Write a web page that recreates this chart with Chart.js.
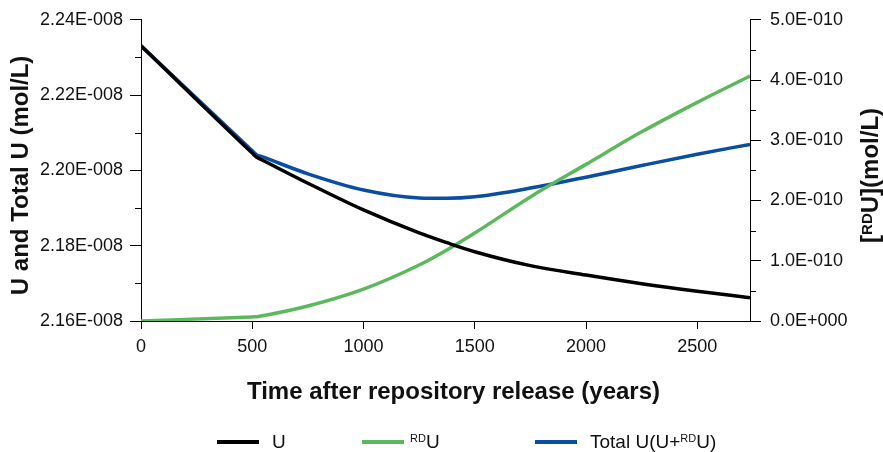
<!DOCTYPE html>
<html>
<head>
<meta charset="utf-8">
<title>Uranium concentration after repository release</title>
<script src="https://cdn.jsdelivr.net/npm/chart.js@4/dist/chart.umd.min.js"></script>
<style>
  html, body { margin: 0; padding: 0; background: #fff; }
  #wrap { position: relative; width: 883px; height: 452px; overflow: hidden;
          font-family: "Liberation Sans", Arial, sans-serif; }
  #chart { position: absolute; left: 0; top: 0; }
  #legend { position: absolute; left: 0; top: 428px; width: 883px; height: 28px; }
  .item { position: absolute; top: 0; height: 28px; display: flex; align-items: center;
          font-size: 19px; color: #111; white-space: nowrap; }
  .item:nth-child(1) { left: 217px; }
  .item:nth-child(2) { left: 362px; }
  .item:nth-child(3) { left: 535px; }
  .swatch { display: inline-block; width: 42px; height: 4px; margin-right: 13px; }
  .item:nth-child(2) .swatch { margin-right: 6px; }
  .item sup { font-size: 11px; vertical-align: baseline; position: relative; top: -0.55em; }
</style>
</head>
<body>
<div id="wrap">
  <canvas id="chart" width="883" height="452"></canvas>
  <div id="legend"></div>
</div>
<script>
// Time after repository release (years)
const years = [0, 500, 520, 540, 750, 1000, 1250, 1375, 1500, 1750, 2000, 2250, 2500, 2737];
// Dissolved U (mol/L), left axis
const uConc = [2.2331e-8, 2.2046e-8, 2.2035e-8, 2.2029e-8, 2.1966e-8, 2.1895e-8, 2.1834e-8,
               2.1808e-8, 2.1784e-8, 2.1747e-8, 2.1722e-8, 2.1699e-8, 2.1679e-8, 2.1662e-8];
// Radiogenic RDU (mol/L), right axis
const rduConc = [0, 0.068e-10, 0.071e-10, 0.083e-10, 0.25e-10, 0.53e-10, 0.93e-10, 1.18e-10,
                 1.46e-10, 2.06e-10, 2.60e-10, 3.14e-10, 3.63e-10, 4.067e-10];
// Total U = U + RDU (mol/L), left axis
const totalConc = [2.2331e-8, 2.2052e-8, 2.2041e-8, 2.2037e-8, 2.1991e-8, 2.1948e-8, 2.1927e-8,
                   2.1926e-8, 2.1930e-8, 2.1953e-8, 2.1982e-8, 2.2013e-8, 2.2043e-8, 2.2069e-8];

// axis tick positions
const xTickValues = [0, 500, 1000, 1500, 2000, 2500];
const leftTickValues = [2.16e-8, 2.18e-8, 2.20e-8, 2.22e-8, 2.24e-8];
const rightTickValues = [0, 1e-10, 2e-10, 3e-10, 4e-10, 5e-10];

const seriesLabels = ['U', '<sup>RD</sup>U', 'Total U(U+<sup>RD</sup>U)'];
const seriesColors = ['#000000', '#5cb85c', '#0a4ea3'];

const xTitle = 'Time after repository release (years)';
const yLeftTitle = 'U and Total U (mol/L)';
const yRightTitle = ['[', 'RD', 'U](mol/L)'];

const FONT = '"Liberation Sans", Arial, sans-serif';

// 2.24E-008 style labels
function sci(v, digits) {
  if (Math.abs(v) < 1e-30) return (0).toFixed(digits) + 'E+000';
  let e = Math.floor(Math.log10(Math.abs(v)));
  let m = v / Math.pow(10, e);
  if (Math.abs(parseFloat(m.toFixed(digits))) >= 10) { m /= 10; e += 1; }
  return m.toFixed(digits) + 'E' + (e < 0 ? '-' : '+') + String(Math.abs(e)).padStart(3, '0');
}

const toPoints = arr => years.map((t, i) => ({ x: t, y: arr[i] }));
const fixedTicks = values => scale => { scale.ticks = values.map(v => ({ value: v })); };

// minor ticks and the axis titles (rotated, with superscripts)
const axisDecor = {
  id: 'axisDecor',
  afterDraw(chart) {
    const { ctx, chartArea } = chart;
    ctx.save();
    ctx.strokeStyle = '#000';
    ctx.lineWidth = 1;
    [[chart.scales.y, leftTickValues, chartArea.left, -6],
     [chart.scales.y1, rightTickValues, chartArea.right, 6]].forEach(([s, vals, x0, len]) => {
      for (let i = 0; i < vals.length - 1; i++) {
        const py = Math.round(s.getPixelForValue((vals[i] + vals[i + 1]) / 2)) + 0.5;
        ctx.beginPath();
        ctx.moveTo(x0, py);
        ctx.lineTo(x0 + len, py);
        ctx.stroke();
      }
    });

    ctx.fillStyle = '#111';
    const big = 'bold 24px ' + FONT;
    const small = 'bold 15px ' + FONT;
    const midY = (chartArea.top + chartArea.bottom) / 2 + 5;

    // x-axis title
    ctx.font = big;
    ctx.textAlign = 'center';
    ctx.textBaseline = 'alphabetic';
    ctx.fillText(xTitle, (chartArea.left + chartArea.right) / 2 + 8, 399);

    // left title
    ctx.save();
    ctx.translate(28, midY);
    ctx.rotate(-Math.PI / 2);
    ctx.fillText(yLeftTitle, 0, 0);
    ctx.restore();

    // right title with superscript
    ctx.save();
    ctx.translate(878, midY);
    ctx.rotate(-Math.PI / 2);
    ctx.textAlign = 'left';
    const fonts = [big, small, big];
    const shifts = [0, -6, 0];
    let total = 0;
    const widths = yRightTitle.map((s, i) => { ctx.font = fonts[i]; const w = ctx.measureText(s).width; total += w; return w; });
    let x = -total / 2;
    yRightTitle.forEach((s, i) => {
      ctx.font = fonts[i];
      ctx.fillText(s, x, shifts[i]);
      x += widths[i];
    });
    ctx.restore();
    ctx.restore();
  }
};

const axisBorder = { display: true, color: '#000', width: 1 };
const tickFont = { family: FONT, size: 18 };

const chart = new Chart(document.getElementById('chart'), {
  type: 'line',
  data: {
    datasets: [
      { label: 'U', data: toPoints(uConc), yAxisID: 'y' },
      { label: 'RDU', data: toPoints(rduConc), yAxisID: 'y1' },
      { label: 'Total U(U+RDU)', data: toPoints(totalConc), yAxisID: 'y' }
    ].map((d, i) => Object.assign(d, {
      borderColor: seriesColors[i],
      backgroundColor: seriesColors[i],
      borderWidth: 3.5,
      pointRadius: 0,
      fill: false,
      cubicInterpolationMode: 'monotone'
    }))
  },
  options: {
    responsive: false,
    animation: false,
    events: [],
    layout: { padding: { top: 17, left: 0, right: 0, bottom: 0 } },
    plugins: { legend: { display: false }, tooltip: { enabled: false } },
    scales: {
      x: {
        type: 'linear', position: 'bottom', min: 0, max: 2737,
        border: axisBorder,
        grid: { drawOnChartArea: false, color: '#000', tickLength: 8 },
        ticks: { autoSkip: false, padding: 7, color: '#111', font: tickFont,
                 maxRotation: 0, callback: v => String(v) },
        afterBuildTicks: fixedTicks(xTickValues),
        afterFit: s => { s.height = 131; }
      },
      y: {
        type: 'linear', position: 'left', min: 2.16e-8, max: 2.24e-8,
        border: axisBorder,
        grid: { drawOnChartArea: false, color: '#000', tickLength: 11 },
        ticks: { autoSkip: false, padding: 7, color: '#111', font: tickFont,
                 callback: v => sci(v, 2) },
        afterBuildTicks: fixedTicks(leftTickValues),
        afterFit: s => { s.width = 141; }
      },
      y1: {
        type: 'linear', position: 'right', min: 0, max: 5e-10,
        border: axisBorder,
        grid: { drawOnChartArea: false, color: '#000', tickLength: 11 },
        ticks: { autoSkip: false, padding: 9, color: '#111', font: tickFont,
                 callback: v => sci(v, 1) },
        afterBuildTicks: fixedTicks(rightTickValues),
        afterFit: s => { s.width = 133; }
      }
    }
  },
  plugins: [axisDecor]
});

// legend with superscripted labels
const legend = document.getElementById('legend');
chart.data.datasets.forEach((d, i) => {
  const item = document.createElement('div');
  item.className = 'item';
  const sw = document.createElement('span');
  sw.className = 'swatch';
  sw.style.background = d.borderColor;
  const txt = document.createElement('span');
  txt.innerHTML = seriesLabels[i];
  item.appendChild(sw);
  item.appendChild(txt);
  legend.appendChild(item);
});
</script>
</body>
</html>
